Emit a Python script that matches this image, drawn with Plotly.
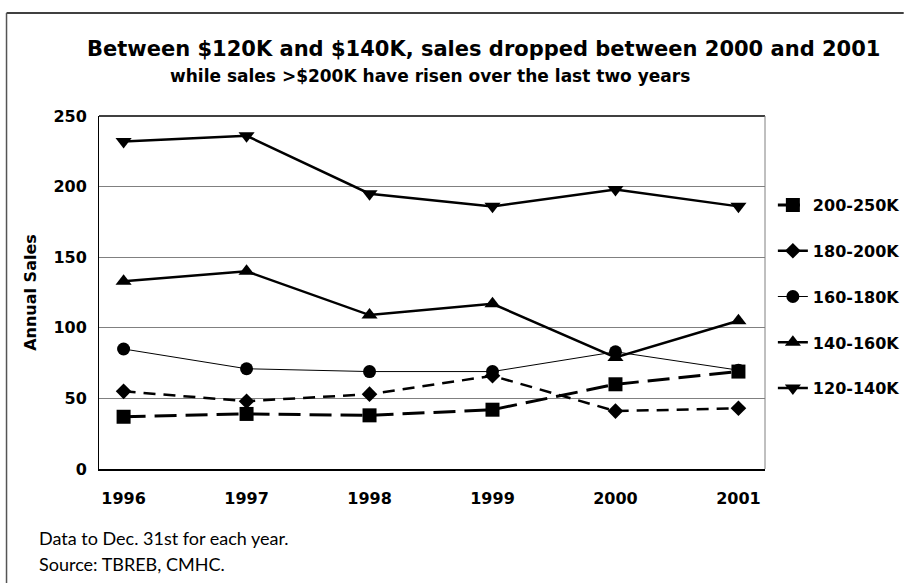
import plotly.graph_objects as go

years = ["1996", "1997", "1998", "1999", "2000", "2001"]
s_120_140 = [232, 236, 195, 186, 198, 186]
s_140_160 = [133, 140, 109, 117, 79, 105]
s_160_180 = [85, 71, 69, 69, 83, 70]
s_180_200 = [55, 48, 53, 66, 41, 43]
s_200_250 = [37, 39, 38, 42, 60, 69]
y_ticks = [0, 50, 100, 150, 200, 250]

FONT = "DejaVu Sans"

fig = go.Figure()
series = [
    ("120-140K", s_120_140, "triangle-down", 14, dict(color="black", width=2.5), 5),
    ("140-160K", s_140_160, "triangle-up", 14, dict(color="black", width=2.5), 4),
    ("160-180K", s_160_180, "circle", 13, dict(color="black", width=1), 3),
    ("180-200K", s_180_200, "diamond", 12, dict(color="black", width=2.5, dash="12px,8px"), 2),
    ("200-250K", s_200_250, "square", 14, dict(color="black", width=3, dash="22px,9px"), 1),
]
for name, vals, sym, size, line, rank in series:
    fig.add_trace(go.Scatter(
        x=years, y=vals, name=name, mode="lines+markers",
        line=line, marker=dict(symbol=sym, size=size, color="black"),
        legendgroup=name, legendrank=rank,
    ))

L, R, T, B = 99, 141, 116, 114
W, H = 917, 583
pw, ph = W - L - R, H - T - B

def px(x):
    return (x - L) / pw

def py(y):
    return (H - B - y) / ph

fig.update_layout(
    width=W, height=H,
    margin=dict(l=L, r=R, t=T, b=B),
    paper_bgcolor="white", plot_bgcolor="white",
    font=dict(family=FONT, color="black"),
    legend=dict(
        x=px(784), y=py(188), xanchor="left", yanchor="top",
        traceorder="grouped", itemwidth=30, tracegroupgap=22,
        font=dict(family=FONT, size=16, color="black", weight="bold"),
        bgcolor="rgba(0,0,0,0)",
    ),
    xaxis=dict(
        type="category", range=[-0.2, 5.216],
        showline=True, linecolor="black", linewidth=2,
        showgrid=False, ticks="", ticklabelstandoff=14,
        tickfont=dict(family=FONT, size=16, color="black", weight="bold"),
    ),
    yaxis=dict(
        range=[0, 250], tickvals=y_ticks,
        showline=True, linecolor="black", linewidth=1,
        showgrid=True, gridcolor="#808080", gridwidth=1,
        zeroline=False, ticks="", ticklabelstandoff=8,
        tickfont=dict(family=FONT, size=16, color="black", weight="bold"),
        title=dict(text="Annual Sales", standoff=12,
                   font=dict(family=FONT, size=16, color="black", weight="bold")),
    ),
    shapes=[
        dict(type="line", xref="paper", yref="paper", x0=0, x1=1, y0=1, y1=1,
             line=dict(color="black", width=1.5)),
        dict(type="line", xref="paper", yref="paper", x0=1, x1=1, y0=0, y1=1,
             line=dict(color="#808080", width=1)),
        dict(type="line", xref="paper", yref="paper", x0=px(5), x1=px(917),
             y0=py(13), y1=py(13), line=dict(color="black", width=1.5)),
        dict(type="line", xref="paper", yref="paper", x0=px(5), x1=px(5),
             y0=py(13), y1=py(583), line=dict(color="#555555", width=1.5)),
    ],
    annotations=[
        dict(text="<b>Between $120K and $140K, sales dropped between 2000 and 2001</b>",
             xref="paper", yref="paper", x=px(490), y=py(49), xanchor="center", yanchor="middle",
             showarrow=False, font=dict(family=FONT, size=21, color="black")),
        dict(text="<b>while sales >$200K have risen over the last two years</b>",
             xref="paper", yref="paper", x=px(435), y=py(76), xanchor="center", yanchor="middle",
             showarrow=False, font=dict(family=FONT, size=17, color="black")),
        dict(text="Data to Dec. 31st for each year.",
             xref="paper", yref="paper", x=px(36), y=py(538), xanchor="left", yanchor="middle",
             showarrow=False, font=dict(family="Lato", size=18, color="black")),
        dict(text="Source: TBREB, CMHC.",
             xref="paper", yref="paper", x=px(36), y=py(564), xanchor="left", yanchor="middle",
             showarrow=False, font=dict(family="Lato", size=18, color="black")),
    ],
)

fig.write_html("out.html")
